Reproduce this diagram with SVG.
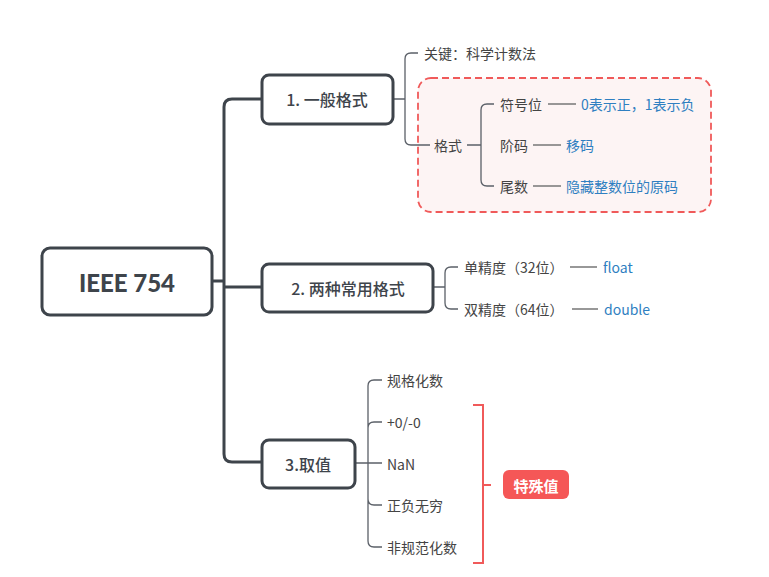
<svg xmlns="http://www.w3.org/2000/svg" width="769" height="577" viewBox="0 0 769 577">
<style>
.node{fill:#fff;stroke:#3e444b;stroke-width:3}
.trunk{fill:none;stroke:#3e444b;stroke-width:3}
.br{fill:none;stroke:#5b6068;stroke-width:1.3}
.lead{fill:none;stroke:#777;stroke-width:1.3}
.t{font-family:"Noto Sans CJK SC","Noto Sans",sans-serif;}
.nt{font-size:16px;font-weight:500;fill:#3e444b;text-anchor:middle;dominant-baseline:central}
.lt{font-size:14px;fill:#444;dominant-baseline:central}
.bt{font-size:14px;fill:#2f7fc1;dominant-baseline:central}
</style>
<rect width="769" height="577" fill="#fff"/>
<g id="format-box">
<rect x="418" y="78" width="293" height="134" rx="13" fill="#fdf4f4" stroke="#f05a5a" stroke-width="1.8" stroke-dasharray="7,4"/>
</g>
<g id="connectors">
<path class="trunk" d="M212,281 H224 M262,99 H232 Q224,99 224,107 V454 Q224,462 232,462 H262 M224,287 H262"/>
<path class="br" d="M393,99 H405 M418,53 H411 Q405,53 405,59 V139 Q405,145 411,145 H430"/>
<path class="br" d="M467,145 H481 M494,104 H487 Q481,104 481,110 V180 Q481,186 487,186 H494"/>
<path class="lead" d="M548,104 H576 M533,145 H561 M533,186 H561"/>
<path class="br" d="M433,287 H445 M458,267 H451 Q445,267 445,273 V303 Q445,309 451,309 H458"/>
<path class="lead" d="M570,267 H597 M572,309 H598"/>
<path class="br" d="M355,463 H382 M382,380 H374 Q368,380 368,386 V541 Q368,547 374,547 H382 M382,422 H374 Q368,422 368,428 M382,505 H374 Q368,505 368,499"/>
<path d="M473,405 H483 V563 H473 M483,485 H491" fill="none" stroke="#f05a5a" stroke-width="2"/>
</g>
<g id="root">
<rect class="node" x="42" y="248" width="170" height="67" rx="8"/>
<text x="127" y="282" font-family="Lato,'Noto Sans',sans-serif" font-size="24" font-weight="900" fill="#3e444b" text-anchor="middle" dominant-baseline="central">IEEE 754</text>
</g>
<g id="n1">
<rect class="node" x="262" y="75" width="131" height="49" rx="7"/>
<text class="t nt" x="327" y="99">1. 一般格式</text>
</g>
<g id="n2">
<rect class="node" x="262" y="264" width="171" height="48" rx="7"/>
<text class="t nt" x="348" y="288">2. 两种常用格式</text>
</g>
<g id="n3">
<rect class="node" x="262" y="440" width="93" height="48" rx="7"/>
<text class="t nt" x="308" y="464">3.取值</text>
</g>
<g id="n1-key"><text class="t lt" x="424" y="53">关键：科学计数法</text></g>
<g id="n1-fmt"><text class="t lt" x="434" y="145">格式</text></g>
<g id="sign"><text class="t lt" x="500" y="104">符号位</text></g>
<g id="sign-v"><text class="t bt" x="581" y="104">0表示正，1表示负</text></g>
<g id="exp"><text class="t lt" x="500" y="145">阶码</text></g>
<g id="exp-v"><text class="t bt" x="566" y="145">移码</text></g>
<g id="man"><text class="t lt" x="500" y="186">尾数</text></g>
<g id="man-v"><text class="t bt" x="566" y="186">隐藏整数位的原码</text></g>
<g id="single"><text class="t lt" x="464" y="267">单精度（32位）</text></g>
<g id="single-v"><text class="t bt" x="603" y="267">float</text></g>
<g id="double"><text class="t lt" x="464" y="309">双精度（64位）</text></g>
<g id="double-v"><text class="t bt" x="604" y="309">double</text></g>
<g id="v1"><text class="t lt" x="387" y="380">规格化数</text></g>
<g id="v2"><text class="t lt" x="387" y="422">+0/-0</text></g>
<g id="v3"><text class="t lt" x="387" y="464">NaN</text></g>
<g id="v4"><text class="t lt" x="387" y="505">正负无穷</text></g>
<g id="v5"><text class="t lt" x="387" y="547">非规范化数</text></g>
<g id="special">
<rect x="503" y="470" width="66" height="29" rx="6" fill="#f55757"/>
<text class="t" x="536" y="485" font-size="15" font-weight="bold" fill="#fff" text-anchor="middle" dominant-baseline="central">特殊值</text>
</g>
</svg>
